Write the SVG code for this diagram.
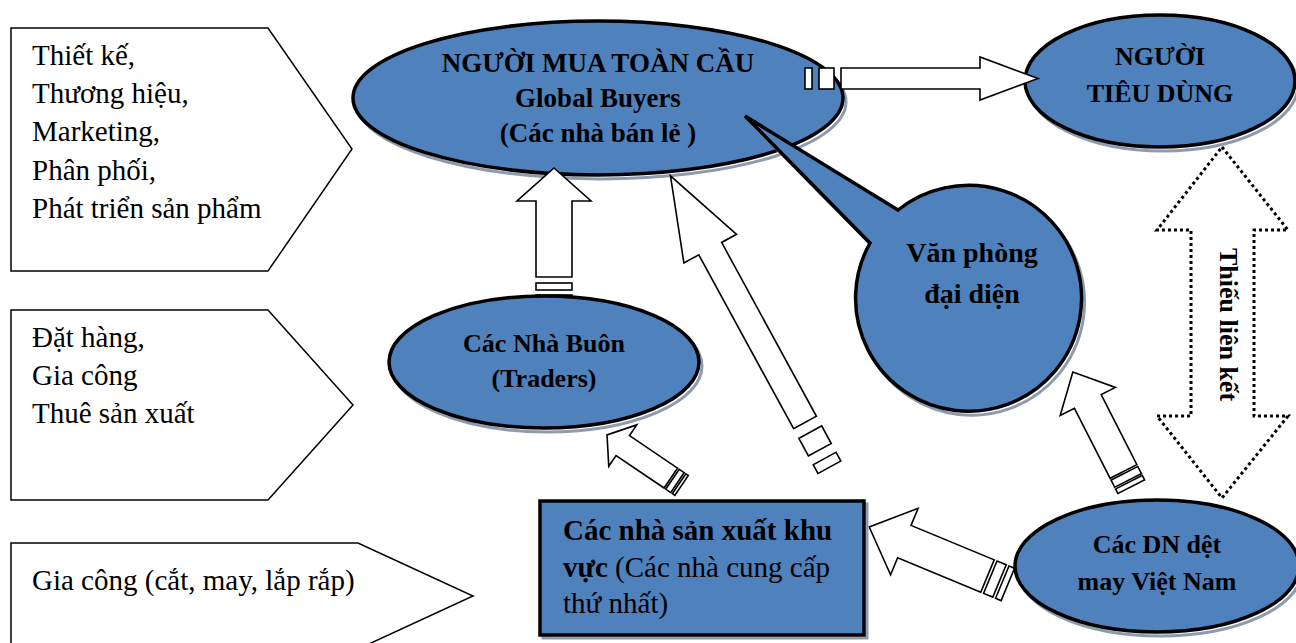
<svg xmlns="http://www.w3.org/2000/svg" width="1296" height="643" viewBox="0 0 1296 643">
<style>
.box{fill:#fff;stroke:#000;stroke-width:1.5}
.node{fill:#4F81BD;stroke:#000;stroke-width:3.5}
.shadow{fill:none;stroke:#8E9BAE;stroke-width:3}
.arr{fill:#fff;stroke:#000;stroke-width:1.6;stroke-linejoin:miter}
.dot{fill:#fff;stroke:#000;stroke-width:3;stroke-dasharray:3 3}
.reg{font-family:"Liberation Serif","Times New Roman",serif;font-size:29px;fill:#000}
.b{font-family:"Liberation Serif","Times New Roman",serif;font-size:26px;font-weight:bold;fill:#000}
.rt{font-family:"Liberation Serif","Times New Roman",serif;font-size:29px;fill:#000}
</style>
<rect width="1296" height="643" fill="#fff"/>

<g id="box-design">
<polygon class="box" points="11,28 268,28 352,149 268,271 11,271"/>
<text class="reg"><tspan x="32" y="65">Thiết kế,</tspan><tspan x="32" y="103">Thương hiệu,</tspan><tspan x="32" y="141">Marketing,</tspan><tspan x="32" y="180">Phân phối,</tspan><tspan x="32" y="218">Phát triển sản phẩm</tspan></text>
</g>
<g id="box-order">
<polygon class="box" points="11,310 268,310 353,405 268,500 11,500"/>
<text class="reg"><tspan x="32" y="347">Đặt hàng,</tspan><tspan x="32" y="385">Gia công</tspan><tspan x="32" y="423">Thuê sản xuất</tspan></text>
</g>
<g id="box-assembly">
<polygon class="box" points="11,543 358,543 473,596 358,649 11,649"/>
<text class="reg" x="32" y="590">Gia công (cắt, may, lắp rắp)</text>
</g>

<g id="global-buyers">
<ellipse class="shadow" cx="601" cy="102" rx="245" ry="77"/>
<ellipse class="node" cx="598" cy="98" rx="245" ry="77"/>
<text class="b" text-anchor="middle" style="font-size:27px"><tspan x="598" y="72">NGƯỜI MUA TOÀN CẦU</tspan><tspan x="598" y="107">Global Buyers</tspan><tspan x="598" y="142">(Các nhà bán lẻ )</tspan></text>
</g>

<g id="consumer">
<ellipse class="shadow" cx="1163" cy="85" rx="135" ry="66"/>
<ellipse class="node" cx="1160" cy="81" rx="135" ry="66"/>
<text class="b" text-anchor="middle"><tspan x="1160" y="65">NGƯỜI</tspan><tspan x="1160" y="102">TIÊU DÙNG</tspan></text>
</g>

<g id="rep-office">
<path d="M898,210 L745,116 L870,243 A113,113 0 1 0 898,210 Z" fill="none" stroke="#8E9BAE" stroke-width="3" transform="translate(3,4)"/>
<path class="node" d="M898,210 L745,116 L870,243 A113,113 0 1 0 898,210 Z"/>
<text class="b" text-anchor="middle" style="font-size:28px"><tspan x="972" y="262">Văn phòng</tspan><tspan x="972" y="303">đại diện</tspan></text>
</g>

<g id="connectors">
<g id="arrow-buyers-consumer">
<rect class="arr" x="805" y="68" width="7" height="21"/>
<rect class="arr" x="819" y="68" width="15" height="21"/>
<path class="arr" d="M841,68 H980 V57 L1038,78.5 L980,100 V89 H841 Z"/>
</g>
<g id="arrow-traders-buyers">
<rect class="arr" x="536" y="295" width="36" height="6"/>
<rect class="arr" x="536" y="283" width="36" height="7"/>
<path class="arr" d="M536,277 V201 H517 L554,168 L591,201 H572 V277 Z"/>
</g>
<g id="arrow-producers-buyers" transform="translate(805,422.5) rotate(-118.6)">
<rect class="arr" x="-51" y="-13" width="10" height="26"/>
<rect class="arr" x="-31" y="-13" width="20" height="26"/>
<path class="arr" d="M0,-13 H198 V-30 L281,0 L198,30 V13 H0 Z"/>
</g>
<g id="arrow-producers-traders" transform="translate(670.8,478.1) rotate(-145.9)">
<rect class="arr" x="-13" y="-12" width="3" height="24"/>
<rect class="arr" x="-8" y="-12" width="6" height="24"/>
<path class="arr" d="M0,-12 H58 V-25 L77,0 L58,25 V12 H0 Z"/>
</g>
<g id="arrow-vn-office" transform="translate(1123.5,471.5) rotate(-117)">
<rect class="arr" x="-17" y="-15" width="5" height="30"/>
<rect class="arr" x="-10" y="-15" width="8" height="30"/>
<path class="arr" d="M0,-15 H78.6 V-31 L111.6,0 L78.6,31 V15 H0 Z"/>
</g>
<g id="arrow-vn-producers" transform="translate(987.5,576) rotate(-157.5)">
<rect class="arr" x="-22" y="-17.5" width="6" height="35"/>
<rect class="arr" x="-13" y="-17.5" width="10" height="35"/>
<path class="arr" d="M0,-17.5 H90 V-36 L128,0 L90,36 V17.5 H0 Z"/>
</g>
<g id="arrow-missing-link">
<path class="dot" d="M1222,147 L1288,230 H1254 V416 H1288 L1222,498 L1157,416 H1191 V230 H1157 Z"/>
<text class="b" transform="translate(1228,324.5) rotate(90)" text-anchor="middle" dominant-baseline="central">Thiếu liên kết</text>
</g>
</g>

<g id="traders">
<ellipse class="shadow" cx="547" cy="366" rx="155" ry="66"/>
<ellipse class="node" cx="544" cy="362" rx="155" ry="66"/>
<text class="b" text-anchor="middle"><tspan x="544" y="352">Các Nhà Buôn</tspan><tspan x="544" y="387">(Traders)</tspan></text>
</g>

<g id="regional-producers">
<rect x="543" y="504" width="324" height="134" fill="none" stroke="#8E9BAE" stroke-width="3"/>
<rect class="node" x="540" y="501" width="324" height="134"/>
<text class="rt"><tspan x="563" y="540" font-weight="bold">Các nhà sản xuất khu</tspan><tspan x="563" y="577"><tspan font-weight="bold">vực</tspan> (Các nhà cung cấp</tspan><tspan x="563" y="613">thứ nhất)</tspan></text>
</g>

<g id="vn-firms">
<ellipse class="shadow" cx="1160" cy="570" rx="142" ry="66"/>
<ellipse class="node" cx="1157" cy="566" rx="142" ry="66"/>
<text class="b" text-anchor="middle"><tspan x="1157" y="553">Các DN dệt</tspan><tspan x="1157" y="590">may Việt Nam</tspan></text>
</g>
</svg>
